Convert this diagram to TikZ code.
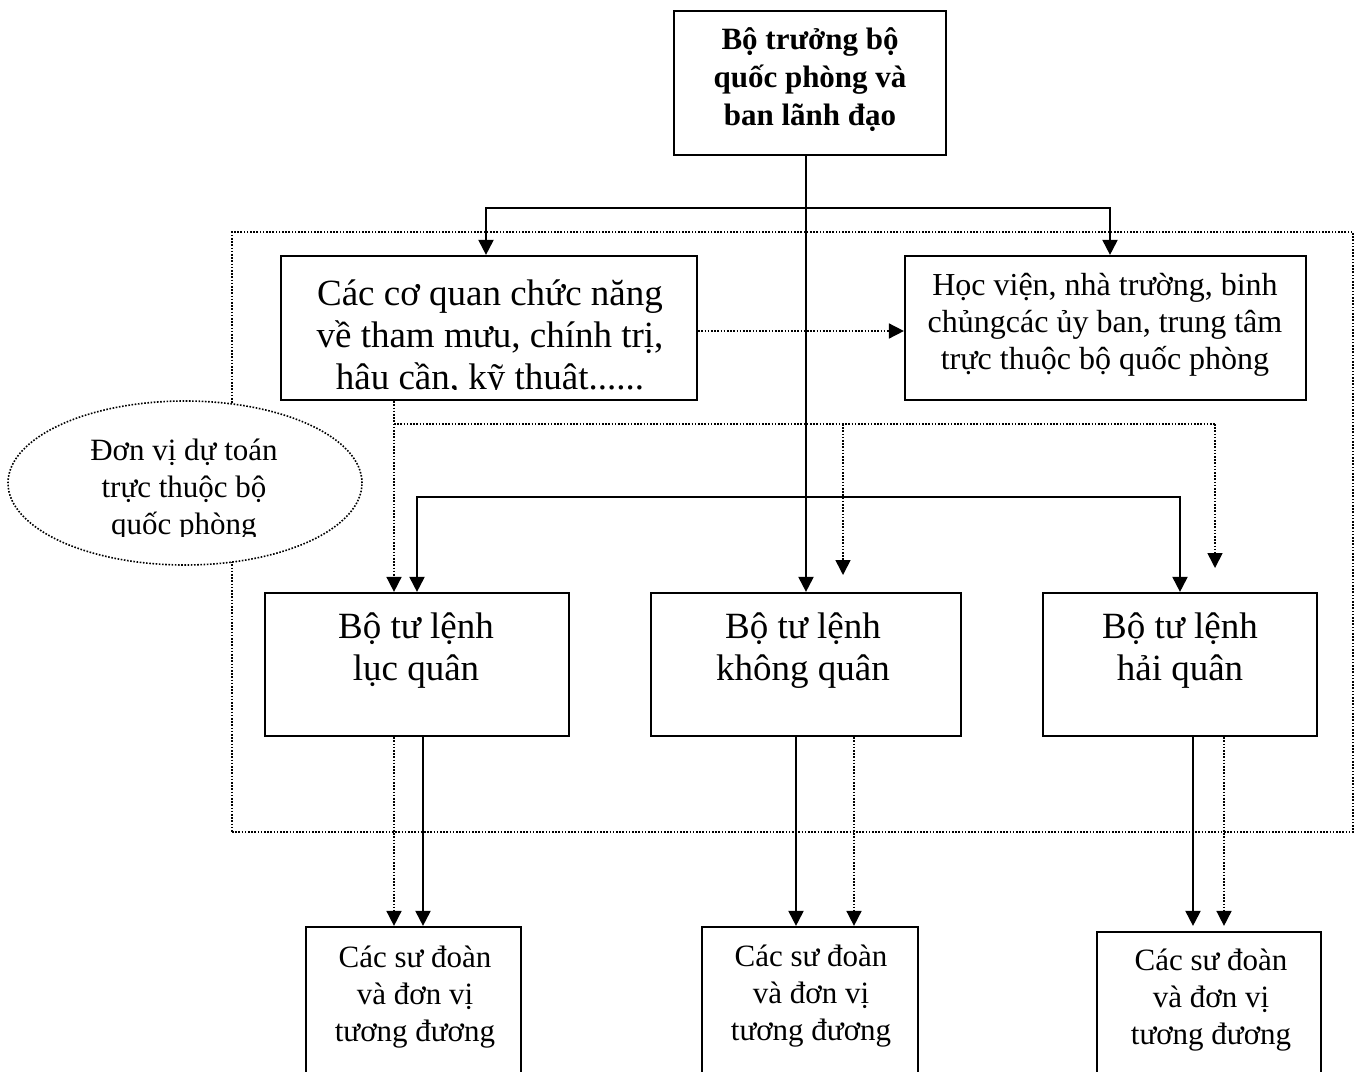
\documentclass[tikz,border=0pt]{standalone}
\usepackage{fontspec}
\setmainfont{Liberation Serif}
\usetikzlibrary{arrows.meta,shapes.geometric}
\begin{document}
\begin{tikzpicture}[x=1pt,y=-1pt,
  box/.style={draw, line width=2.2pt, rectangle, inner sep=0pt},
  lbl/.style={align=center, inner sep=0pt},
  conn/.style={line width=2pt, -{Triangle[width=15pt,length=15pt]}},
  dline/.style={line width=1.6pt, dash pattern=on 1.6pt off 1.6pt},
  dconn/.style={dline, -{Triangle[width=15pt,length=15pt]}},
  big/.style={font=\fontsize{37}{42}\selectfont},
  mid/.style={font=\fontsize{32}{37}\selectfont},
  small/.style={font=\fontsize{31}{37}\selectfont},
]
\useasboundingbox (0,0) rectangle (1354,1071);
\clip (0,0) rectangle (1354,1071);
\fill[white] (0,0) rectangle (1354,1071);

% dotted frame around the units budgeted by the ministry
\node[draw, dline, line width=2pt, minimum width=1121pt, minimum height=600pt, inner sep=0pt] (grp) at (792.5,532) {};

% boxes
\node[box, line width=2.5pt, minimum width=272pt, minimum height=144pt] (top) at (810,83) {};
\node[box, minimum width=416pt, minimum height=144pt] (cq) at (489,328) {};
\node[box, minimum width=401pt, minimum height=144pt] (hv) at (1105.5,328) {};
\node[box, minimum width=304pt, minimum height=143pt] (lq) at (417,664.5) {};
\node[box, minimum width=310pt, minimum height=143pt] (kq) at (806,664.5) {};
\node[box, minimum width=274pt, minimum height=143pt] (hq) at (1180,664.5) {};
\node[box, minimum width=215pt, minimum height=173pt] (sd1) at (413.5,1013.5) {};
\node[box, minimum width=216pt, minimum height=173pt] (sd2) at (810,1013.5) {};
\node[box, minimum width=224pt, minimum height=168pt] (sd3) at (1209,1016) {};

% dotted ellipse label
\node[ellipse, draw, dline, fill=white, minimum width=354pt, minimum height=164pt, inner sep=0pt] (dv) at (185,483) {};

% texts
\node[lbl, font=\fontsize{31}{38}\selectfont\bfseries] (topT) at (810,80) {Bộ trưởng bộ\\quốc phòng và\\ban lãnh đạo};
\begin{scope}
  \clip (cq.north west) rectangle ([yshift=12pt]cq.south east);
  \node[lbl, big] (cqT) at (490,339) {Các cơ quan chức năng\\về tham mưu, chính trị,\\hậu cần, kỹ thuật......};
\end{scope}
\node[lbl, mid] (hvT) at (1105,325) {Học viện, nhà trường, binh\\chủngcác ủy ban, trung tâm\\trực thuộc bộ quốc phòng};
\begin{scope}
  \clip (0,400) rectangle (400,536);
  \node[lbl, small] (dvT) at (184,490) {Đơn vị dự toán\\trực thuộc bộ\\quốc phòng};
\end{scope}
\node[lbl, big] (lqT) at (416,651) {Bộ tư lệnh\\lục quân};
\node[lbl, big] (kqT) at (803,651) {Bộ tư lệnh\\không quân};
\node[lbl, big] (hqT) at (1180,651) {Bộ tư lệnh\\hải quân};
\node[lbl, small] (sd1T) at (415,997) {Các sư đoàn\\và đơn vị\\tương đương};
\node[lbl, small] (sd2T) at (811,996) {Các sư đoàn\\và đơn vị\\tương đương};
\node[lbl, small] (sd3T) at (1211,1000) {Các sư đoàn\\và đơn vị\\tương đương};

% solid command lines from the minister
\coordinate (hub) at (806,208);
\coordinate (mid) at (806,497);
\draw[conn] (top.south -| kq.north) -- (kq.north);
\draw[conn] (hub) -| ([xshift=-3pt]cq.north);
\draw[conn] (hub) -| ([xshift=4.5pt]hv.north);
\draw[conn] (mid) -| (lq.north);
\draw[conn] (mid) -| (hq.north);

% dotted guidance lines from the functional agencies
\coordinate (dl) at (394,424);
\coordinate (dm) at (843,424);
\coordinate (dr) at (1215,424);
\coordinate (dmEnd) at (843,575);
\coordinate (drEnd) at (1215,568);
\draw[dconn] ([yshift=-3pt]cq.east) -- ([yshift=-3pt]hv.west);
\draw[dconn] (cq.south -| dl) -- (lq.north -| dl);
\draw[dline] (dl) -- (dr);
\draw[dconn] (dm) -- (dmEnd);
\draw[dconn] (dr) -- (drEnd);

% from the service commands down to the divisions
\draw[dconn] (lq.south -| dl) -- (sd1.north -| dl);
\draw[conn] ([xshift=6pt]lq.south) -- ([xshift=6pt]lq.south |- sd1.north);
\draw[conn] ([xshift=-10pt]kq.south) -- ([xshift=-10pt]kq.south |- sd2.north);
\draw[dconn] ([xshift=48pt]kq.south) -- ([xshift=48pt]kq.south |- sd2.north);
\draw[conn] ([xshift=13pt]hq.south) -- ([xshift=13pt,yshift=5pt]hq.south |- sd3.north);
\draw[dconn] ([xshift=44pt]hq.south) -- ([xshift=44pt,yshift=5pt]hq.south |- sd3.north);
\end{tikzpicture}
\end{document}
